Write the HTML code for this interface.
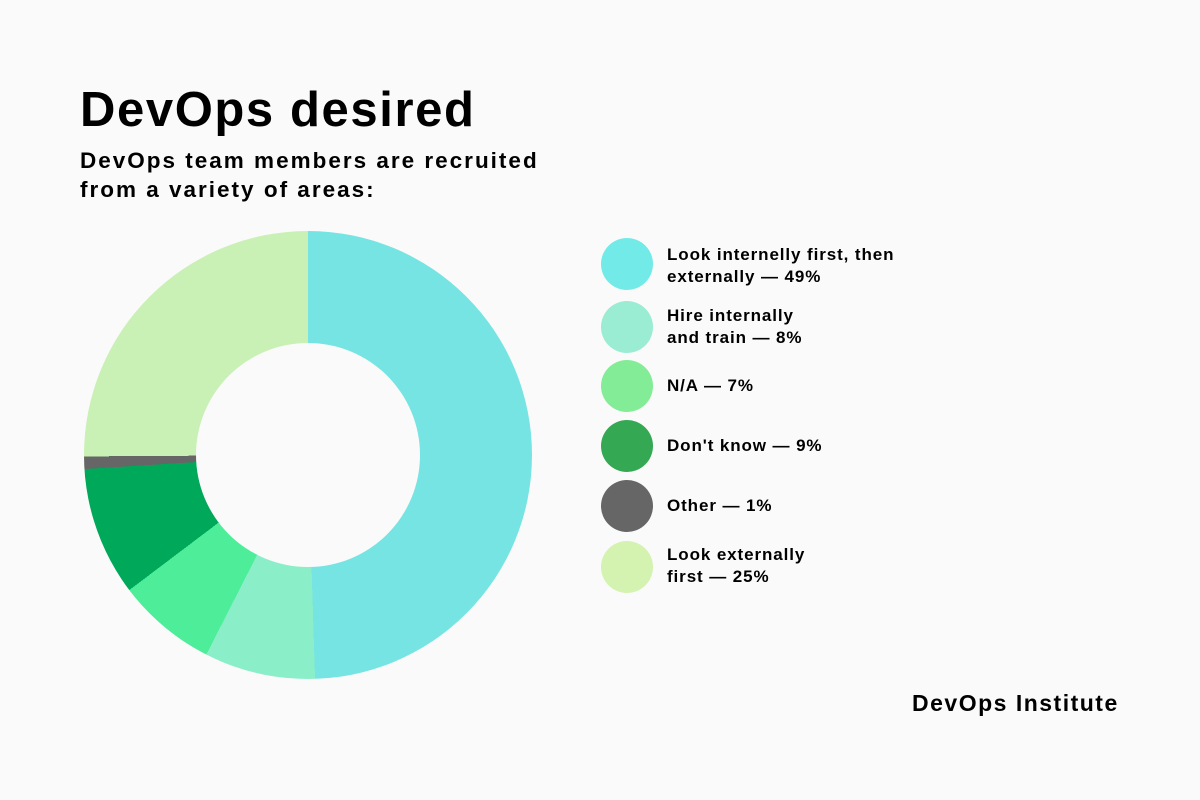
<!DOCTYPE html>
<html><head><meta charset="utf-8"><style>
body{margin:0;width:1200px;height:800px;background:#fafafa;font-family:"Liberation Sans",sans-serif;position:relative;overflow:hidden;color:#000}
.t{position:absolute;left:80px;top:82px;font-size:49px;font-weight:bold;letter-spacing:1.6px}
.s{position:absolute;left:80px;top:146px;font-size:22.5px;font-weight:bold;line-height:29px;letter-spacing:2px}
.donut{position:absolute;left:84px;top:231px;width:448px;height:448px;border-radius:50%;
background:conic-gradient(#76e4e2 0 49.5%,#8aeec9 49.5% 57.5%,#4ded9a 57.5% 64.7%,#00a85a 64.7% 74%,#666 74% 74.9%,#c9f1b5 74.9% 100%)}
.hole{position:absolute;left:196px;top:343px;width:224px;height:224px;border-radius:50%;background:#fafafa}
.c{position:absolute;left:601px;width:52px;height:52px;border-radius:50%}
.l{position:absolute;left:667px;font-size:17px;font-weight:bold;line-height:22px;letter-spacing:0.9px}
.f{position:absolute;left:912px;top:690px;font-size:23px;font-weight:bold;letter-spacing:1.5px}
</style></head><body>
<div class="t">DevOps desired</div>
<div class="s">DevOps team members are recruited<br>from a variety of areas:</div>
<div class="donut"></div><div class="hole"></div>
<div class="c" style="top:238px;background:#72ebe8"></div><div class="l" style="top:244px">Look internelly first, then<br>externally — 49%</div>
<div class="c" style="top:301px;background:#9aecd3"></div><div class="l" style="top:305px">Hire internally<br>and train — 8%</div>
<div class="c" style="top:360px;background:#82ec96"></div><div class="l" style="top:375px">N/A — 7%</div>
<div class="c" style="top:420px;background:#34a853"></div><div class="l" style="top:435px">Don't know — 9%</div>
<div class="c" style="top:480px;background:#666"></div><div class="l" style="top:495px">Other — 1%</div>
<div class="c" style="top:541px;background:#d4f2b0"></div><div class="l" style="top:544px">Look externally<br>first — 25%</div>
<div class="f">DevOps Institute</div>
</body></html>
